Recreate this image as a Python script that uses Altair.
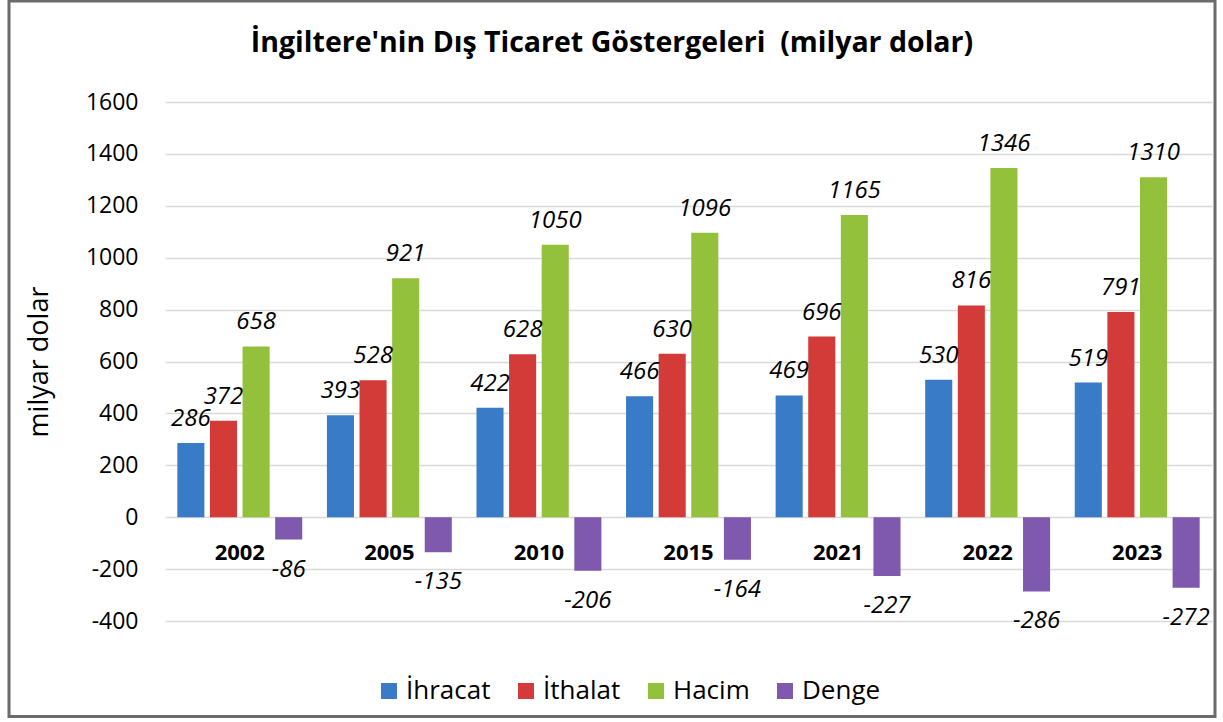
import altair as alt
import pandas as pd

years = ["2002", "2005", "2010", "2015", "2021", "2022", "2023"]
series = ["İhracat", "İthalat", "Hacim", "Denge"]
ihracat = [286, 393, 422, 466, 469, 530, 519]
ithalat = [372, 528, 628, 630, 696, 816, 791]
hacim = [658, 921, 1050, 1096, 1165, 1346, 1310]
denge = [-86, -135, -206, -164, -227, -286, -272]
colors = ["#3a7bc8", "#d23b37", "#93c13c", "#7e59ad"]
y_ticks = [-400, -200, 0, 200, 400, 600, 800, 1000, 1200, 1400, 1600]
title_text = "İngiltere'nin Dış Ticaret Göstergeleri \u00a0(milyar dolar)"

rows = []
for name, vals in zip(series, [ihracat, ithalat, hacim, denge]):
    for y, v in zip(years, vals):
        rows.append({"Yil": y, "Seri": name, "Deger": v})
df = pd.DataFrame(rows)
ydf = pd.DataFrame({"Yil": years})

FONT = "Open Sans"

x_enc = alt.X("Yil:N", sort=years, axis=None,
              scale=alt.Scale(paddingInner=0.13, paddingOuter=0.065))
xo_enc = alt.XOffset("Seri:N", sort=series,
                     scale=alt.Scale(paddingInner=0.17, paddingOuter=0.08))
y_enc = alt.Y("Deger:Q",
              scale=alt.Scale(domain=[-400, 1600], nice=False, zero=False),
              axis=alt.Axis(values=y_ticks, title="milyar dolar", grid=True,
                            labelExpr="toString(datum.value)",
                            domain=False, ticks=False, labelPadding=27,
                            labelFontSize=23, labelFont=FONT, labelColor="#000",
                            titleFontSize=27, titleFont=FONT, titleFontWeight="normal",
                            titleColor="#000", titlePadding=32,
                            gridColor="#d9d9d9", gridWidth=1.5))

bars = alt.Chart(df).mark_bar().encode(
    x=x_enc, xOffset=xo_enc, y=y_enc,
    color=alt.Color("Seri:N", sort=series,
                    scale=alt.Scale(domain=series, range=colors),
                    legend=alt.Legend(title=None, orient="none", direction="horizontal",
                                      columns=4, legendX=211, legendY=576,
                                      symbolType="square", symbolSize=256,
                                      symbolStrokeWidth=0, labelFontSize=26,
                                      labelFont=FONT, labelColor="#000",
                                      labelOffset=4, columnPadding=22, padding=0)),
)

lbl = alt.Chart(df).transform_calculate(lab="toString(datum.Deger)")

pos_labels = lbl.transform_filter("datum.Deger >= 0").mark_text(
    font=FONT, fontSize=24, fontStyle="italic", baseline="alphabetic", dy=-17, color="#000"
).encode(x=x_enc, xOffset=xo_enc, y=alt.Y("Deger:Q"), text="lab:N")

neg_labels = lbl.transform_filter("datum.Deger < 0").mark_text(
    font=FONT, fontSize=24, fontStyle="italic", baseline="alphabetic", dy=37, color="#000"
).encode(x=x_enc, xOffset=xo_enc, y=alt.Y("Deger:Q"), text="lab:N")

year_labels = alt.Chart(ydf).mark_text(
    font=FONT, fontSize=22, fontWeight="bold", baseline="alphabetic", dy=43, color="#000"
).encode(x=x_enc, y=alt.datum(0), text="Yil:N")

title = alt.Chart(pd.DataFrame({"t": [title_text]})).mark_text(
    font=FONT, fontSize=28.5, fontWeight="bold", baseline="alphabetic", align="center", color="#000"
).encode(x=alt.value(447), y=alt.value(-50), text="t:N")

border = alt.Chart(pd.DataFrame({"a": [0]})).mark_rect(
    filled=False, stroke="#6b6b6b", strokeWidth=3
).encode(x=alt.value(-156), x2=alt.value(1050), y=alt.value(-101), y2=alt.value(614.5))

chart = alt.layer(bars, pos_labels, neg_labels, year_labels, title, border).properties(
    width=1047, height=519,
    autosize=alt.AutoSizeParams(type="none"),
    padding={"left": 165, "top": 102, "right": 11, "bottom": 101},
    background="white",
).configure_view(stroke=None)

chart.save("out.html", embed_options={"renderer": "svg", "actions": False})
